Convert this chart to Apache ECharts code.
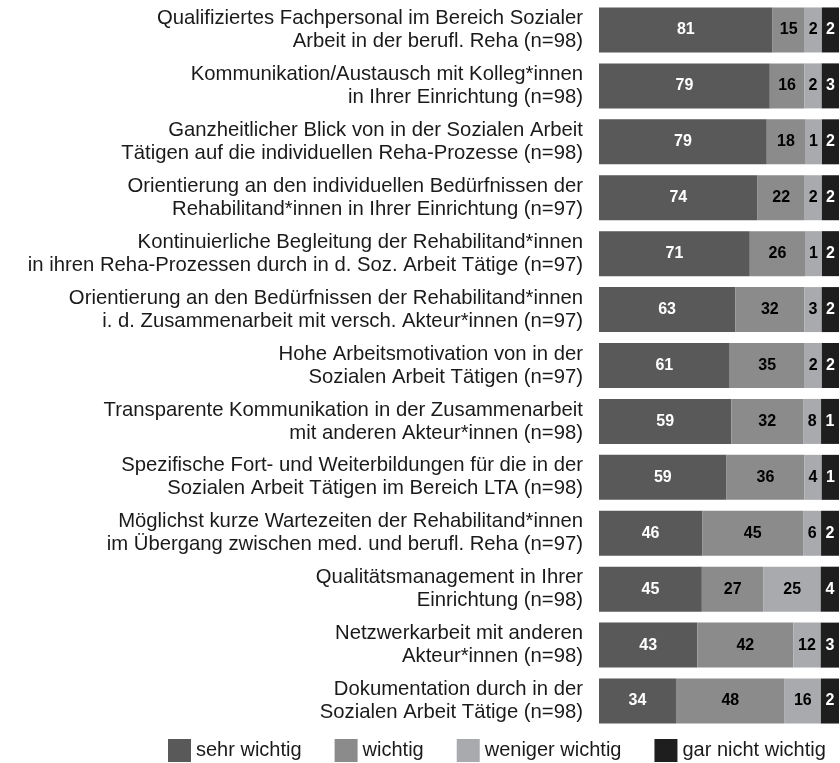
<!DOCTYPE html>
<html>
<head>
<meta charset="utf-8">
<script src="https://cdn.jsdelivr.net/npm/echarts@6/dist/echarts.min.js"></script>
<style>
  html, body { margin: 0; padding: 0; background: #fff; }
  #chart { width: 840px; height: 763px; }
</style>
</head>
<body>
<div id="chart"></div>
<script>
// Kategorien (von oben nach unten)
const categories = [
  'Qualifiziertes Fachpersonal im Bereich Sozialer\nArbeit in der berufl. Reha (n=98)',
  'Kommunikation/Austausch mit Kolleg*innen\nin Ihrer Einrichtung (n=98)',
  'Ganzheitlicher Blick von in der Sozialen Arbeit\nTätigen auf die individuellen Reha-Prozesse (n=98)',
  'Orientierung an den individuellen Bedürfnissen der\nRehabilitand*innen in Ihrer Einrichtung (n=97)',
  'Kontinuierliche Begleitung der Rehabilitand*innen\nin ihren Reha-Prozessen durch in d. Soz. Arbeit Tätige (n=97)',
  'Orientierung an den Bedürfnissen der Rehabilitand*innen\ni. d. Zusammenarbeit mit versch. Akteur*innen (n=97)',
  'Hohe Arbeitsmotivation von in der\nSozialen Arbeit Tätigen (n=97)',
  'Transparente Kommunikation in der Zusammenarbeit\nmit anderen Akteur*innen (n=98)',
  'Spezifische Fort- und Weiterbildungen für die in der\nSozialen Arbeit Tätigen im Bereich LTA (n=98)',
  'Möglichst kurze Wartezeiten der Rehabilitand*innen\nim Übergang zwischen med. und berufl. Reha (n=97)',
  'Qualitätsmanagement in Ihrer\nEinrichtung (n=98)',
  'Netzwerkarbeit mit anderen\nAkteur*innen (n=98)',
  'Dokumentation durch in der\nSozialen Arbeit Tätige (n=98)'
];

// Prozentwerte je Antwortkategorie
const sehrWichtig     = [81, 79, 79, 74, 71, 63, 61, 59, 59, 46, 45, 43, 34];
const wichtig         = [15, 16, 18, 22, 26, 32, 35, 32, 36, 45, 27, 42, 48];
const wenigerWichtig  = [ 2,  2,  1,  2,  1,  3,  2,  8,  4,  6, 25, 12, 16];
const garNichtWichtig = [ 2,  3,  2,  2,  2,  2,  2,  1,  1,  2,  4,  3,  2];

const seriesNames = ['sehr wichtig', 'wichtig', 'weniger wichtig', 'gar nicht wichtig'];
const colors = ['#595959', '#8b8b8b', '#a8aaad', '#1e1e1e'];
const labelColors = ['#fff', '#000', '#000', '#fff'];

const FONT = "'Liberation Sans', Arial, sans-serif";
// im Original haben kleine Segmente eine Mindestbreite, damit die Zahl hineinpasst;
// jede Zeile wird danach auf 100 % gestreckt
const MIN_SHARE = 8;

const allValues = [sehrWichtig, wichtig, wenigerWichtig, garNichtWichtig];
const rowTotals = categories.map((c, i) =>
  allValues.reduce((s, arr) => s + Math.max(arr[i], MIN_SHARE), 0));

const series = allValues.map((arr, k) => ({
  name: seriesNames[k],
  type: 'bar',
  stack: 'total',
  barWidth: 45,
  itemStyle: { color: colors[k] },
  label: {
    show: true,
    position: 'inside',
    color: labelColors[k],
    fontFamily: FONT,
    fontWeight: 'bold',
    fontSize: 16,
    formatter: p => arr[p.dataIndex]
  },
  data: arr.map((v, i) => Math.max(v, MIN_SHARE) / rowTotals[i] * 100)
}));

const chart = echarts.init(document.getElementById('chart'));
chart.setOption({
  animation: false,
  color: colors,
  grid: { left: 599, right: 1, top: 2, bottom: 34 },
  xAxis: {
    type: 'value',
    min: 0,
    max: 100,
    show: false
  },
  yAxis: {
    type: 'category',
    inverse: true,
    data: categories,
    axisLine: { show: false },
    axisTick: { show: false },
    axisLabel: {
      margin: 16,
      color: '#1a1a1a',
      fontFamily: FONT,
      fontSize: 20.3,
      lineHeight: 23,
      align: 'right'
    }
  },
  legend: {
    left: 168,
    top: 739,
    padding: 0,
    itemWidth: 23,
    itemHeight: 23,
    itemGap: 33,
    icon: 'rect',
    textStyle: { fontFamily: FONT, fontSize: 20, color: '#1a1a1a' },
    data: seriesNames
  },
  series: series
});
</script>
</body>
</html>
